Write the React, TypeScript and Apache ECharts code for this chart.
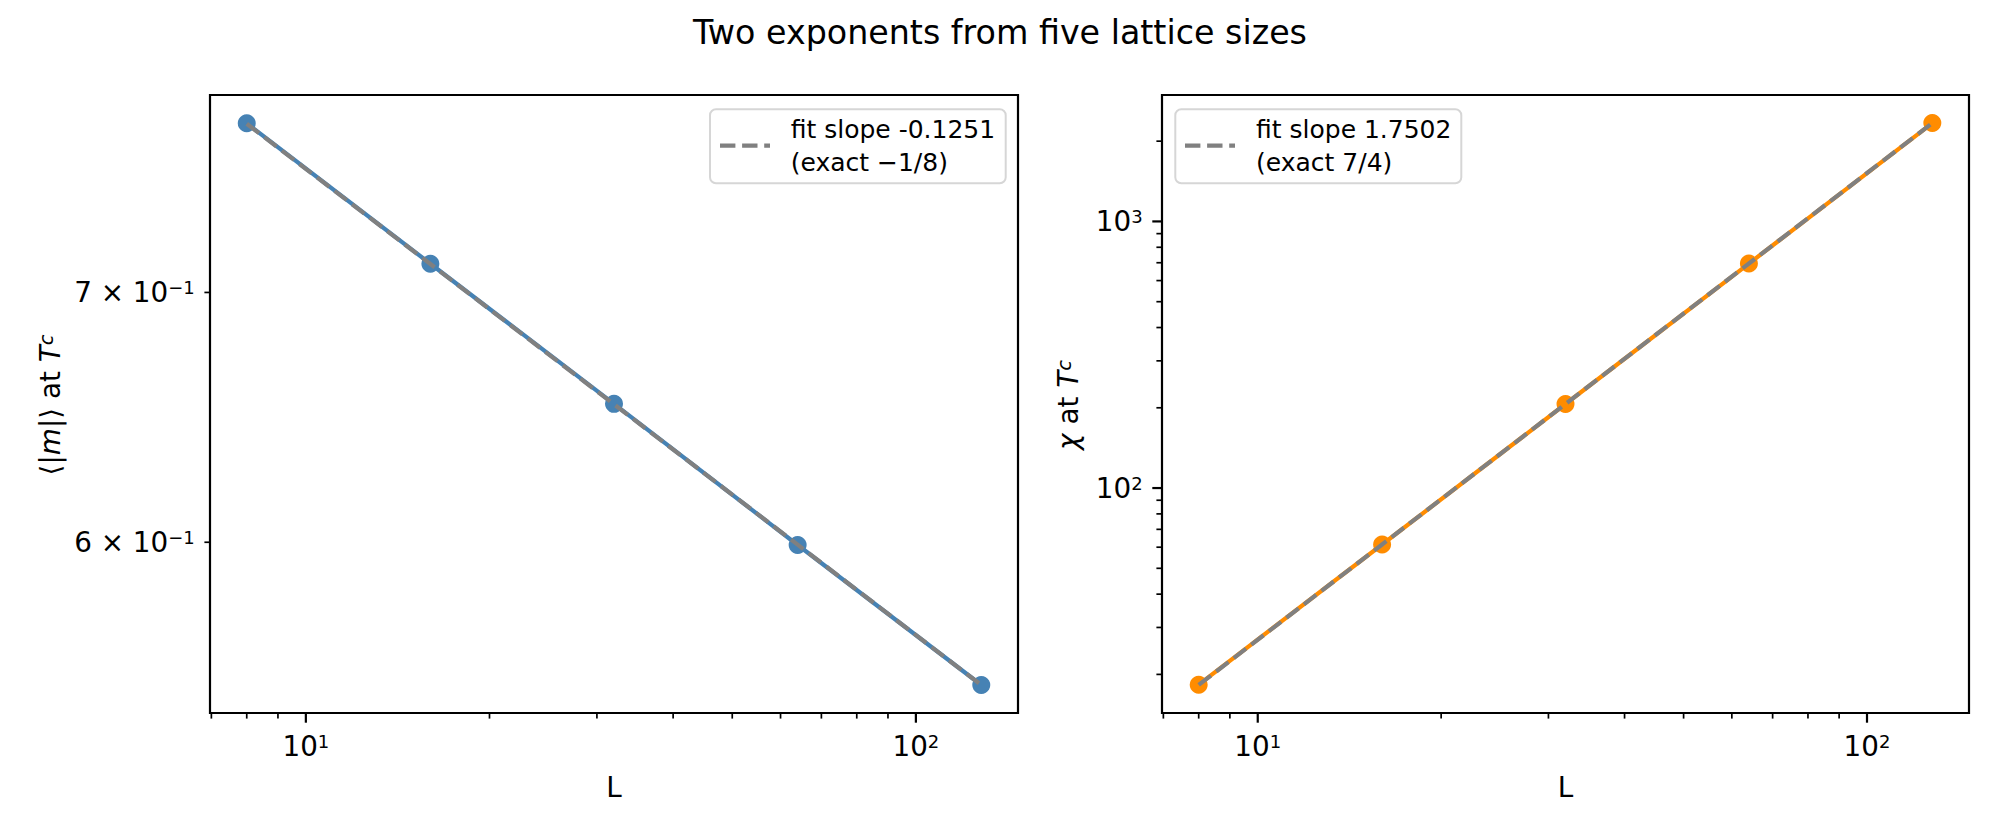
import React, { useEffect, useRef } from 'react';
import * as echarts from 'echarts';

const FONT = 'DejaVu Sans';

// ---- data ----
const latticeSizes = [8, 16, 32, 64, 128];
const magnetization = [0.777, 0.7125, 0.6535, 0.599, 0.5494];
const magnetizationFit = [0.7768, 0.7124, 0.6533, 0.5991, 0.5494];
const susceptibility = [18.3, 61.4, 206.7, 695, 2339];
const susceptibilityFit = [18.26, 61.43, 206.7, 695.4, 2339];

const legendM = ['fit slope -0.1251', '(exact \u22121/8)'];
const legendChi = ['fit slope 1.7502', '(exact 7/4)'];

const chartTitle = 'Two exponents from five lattice sizes';

// ---- ticks ----
const xMajorTicks = [10, 100];
const xMajorLabels = [['10', '1'], ['10', '2']];
const xMinorTicks = [7, 8, 9, 20, 30, 40, 50, 60, 70, 80, 90];
const mTicks = [0.6, 0.7];
const mTickLabels = [['6 \u00d7 10', '\u22121'], ['7 \u00d7 10', '\u22121']];
const chiMajorTicks = [100, 1000];
const chiMajorLabels = [['10', '2'], ['10', '3']];
const chiMinorTicks = [20, 30, 40, 50, 60, 70, 80, 90, 200, 300, 400, 500, 600, 700, 800, 900, 2000];

// ---- axis ranges ----
const xRange = [6.964, 147.03];
const mRange = [0.54, 0.7907];
const chiRange = [14.33, 2980];

const MAJOR_LEN = 9.7;
const MINOR_LEN = 5.6;
const PAD = 9.7;

const supRich = {
  b: { fontFamily: FONT, fontSize: 27.8, lineHeight: 28, verticalAlign: 'bottom' },
  s: { fontFamily: FONT, fontSize: 18, lineHeight: 15, verticalAlign: 'top' },
};

const labelRich = {
  r: { fontFamily: FONT, fontSize: 27.8, lineHeight: 28, verticalAlign: 'top' },
  i: { fontFamily: FONT, fontStyle: 'italic', fontSize: 27.8, lineHeight: 28, verticalAlign: 'top' },
  sub: { fontFamily: FONT, fontStyle: 'italic', fontSize: 19.5, lineHeight: 46, verticalAlign: 'top' },
};

function xTickSeries(grid: number, ticks: number[], major: boolean, labels: any, yAnchor: number) {
  return {
    type: 'custom',
    xAxisIndex: grid,
    yAxisIndex: grid,
    clip: false,
    silent: true,
    z: 5,
    data: ticks.map((v) => [v, yAnchor]),
    encode: { x: 0, y: 1 },
    renderItem: (params: any, api: any) => {
      const p = api.coord([api.value(0), yAnchor]);
      const len = major ? MAJOR_LEN : MINOR_LEN;
      const children: any[] = [
        {
          type: 'line',
          shape: { x1: p[0], y1: p[1], x2: p[0], y2: p[1] + len },
          style: { stroke: '#000', lineWidth: major ? 2.2 : 1.7 },
        },
      ];
      const lab = labels && labels[params.dataIndex];
      if (lab) {
        children.push({
          type: 'text',
          x: p[0],
          y: p[1] + len + PAD,
          style: {
            text: `{b|${lab[0]}}{s|${lab[1]}}`,
            rich: supRich,
            align: 'center',
            verticalAlign: 'top',
            fill: '#000',
          },
        });
      }
      return { type: 'group', children };
    },
  };
}

function yTickSeries(grid: number, ticks: number[], major: boolean, labels: any, xAnchor: number) {
  return {
    type: 'custom',
    xAxisIndex: grid,
    yAxisIndex: grid,
    clip: false,
    silent: true,
    z: 5,
    data: ticks.map((v) => [xAnchor, v]),
    encode: { x: 0, y: 1 },
    renderItem: (params: any, api: any) => {
      const p = api.coord([xAnchor, api.value(1)]);
      const len = major ? MAJOR_LEN : MINOR_LEN;
      const children: any[] = [
        {
          type: 'line',
          shape: { x1: p[0] - len, y1: p[1], x2: p[0], y2: p[1] },
          style: { stroke: '#000', lineWidth: major ? 2.2 : 1.7 },
        },
      ];
      const lab = labels && labels[params.dataIndex];
      if (lab) {
        children.push({
          type: 'text',
          x: p[0] - len - PAD,
          y: p[1],
          style: {
            text: `{b|${lab[0]}}{s|${lab[1]}}`,
            rich: supRich,
            align: 'right',
            verticalAlign: 'middle',
            fill: '#000',
          },
        });
      }
      return { type: 'group', children };
    },
  };
}

function legendGraphic(boxX: number, boxW: number, handleX: number, textX: number, lines: string[]) {
  return [
    {
      type: 'rect',
      z: 10,
      shape: { x: boxX, y: 109.3, width: boxW, height: 74, r: 6 },
      style: { fill: 'rgba(255,255,255,0.8)', stroke: '#d6d6d6', lineWidth: 2 },
    },
    {
      type: 'line',
      z: 11,
      shape: { x1: handleX, y1: 145.7, x2: handleX + 50, y2: 145.7 },
      style: { stroke: '#808080', lineWidth: 4.2, lineDash: [15.4, 6.7] },
    },
    {
      type: 'text',
      z: 11,
      x: textX,
      y: 146.3,
      style: {
        text: lines.join('\n'),
        fontFamily: FONT,
        fontSize: 25,
        lineHeight: 33,
        fill: '#000',
        align: 'left',
        verticalAlign: 'middle',
      },
    },
  ];
}

function axisCommon(gridIndex: number, range: number[]) {
  return {
    type: 'log',
    logBase: 10,
    gridIndex,
    min: range[0],
    max: range[1],
    axisLine: { show: false },
    axisTick: { show: false },
    axisLabel: { show: false },
    splitLine: { show: false },
    minorTick: { show: false },
  };
}

export default function App() {
  const ref = useRef<HTMLDivElement>(null);

  useEffect(() => {
    if (!ref.current) return;
    const chart = echarts.init(ref.current, undefined, { renderer: 'svg' });
    const option: any = {
      animation: false,
      backgroundColor: '#fff',
      title: {
        text: chartTitle,
        left: 'center',
        top: 15,
        padding: 0,
        textStyle: { fontFamily: FONT, fontSize: 33.3, fontWeight: 'normal', color: '#000', lineHeight: 34 },
      },
      grid: [
        { left: 210, top: 95, width: 808, height: 618, show: true, borderColor: '#000', borderWidth: 2.2, backgroundColor: 'transparent' },
        { left: 1162, top: 95, width: 807, height: 618, show: true, borderColor: '#000', borderWidth: 2.2, backgroundColor: 'transparent' },
      ],
      xAxis: [axisCommon(0, xRange), axisCommon(1, xRange)],
      yAxis: [axisCommon(0, mRange), axisCommon(1, chiRange)],
      series: [
        {
          type: 'line',
          xAxisIndex: 0,
          yAxisIndex: 0,
          data: latticeSizes.map((l, i) => [l, magnetization[i]]),
          symbol: 'circle',
          symbolSize: 18,
          lineStyle: { color: '#4682b4', width: 4.2 },
          itemStyle: { color: '#4682b4' },
          z: 2,
        },
        {
          type: 'line',
          xAxisIndex: 0,
          yAxisIndex: 0,
          data: latticeSizes.map((l, i) => [l, magnetizationFit[i]]),
          symbol: 'none',
          lineStyle: { color: '#808080', width: 4.2, type: [15.4, 6.7] },
          z: 3,
        },
        {
          type: 'line',
          xAxisIndex: 1,
          yAxisIndex: 1,
          data: latticeSizes.map((l, i) => [l, susceptibility[i]]),
          symbol: 'circle',
          symbolSize: 18,
          lineStyle: { color: '#ff8c00', width: 4.2 },
          itemStyle: { color: '#ff8c00' },
          z: 2,
        },
        {
          type: 'line',
          xAxisIndex: 1,
          yAxisIndex: 1,
          data: latticeSizes.map((l, i) => [l, susceptibilityFit[i]]),
          symbol: 'none',
          lineStyle: { color: '#808080', width: 4.2, type: [15.4, 6.7] },
          z: 3,
        },
        xTickSeries(0, xMajorTicks, true, xMajorLabels, mRange[0]),
        xTickSeries(0, xMinorTicks, false, null, mRange[0]),
        xTickSeries(1, xMajorTicks, true, xMajorLabels, chiRange[0]),
        xTickSeries(1, xMinorTicks, false, null, chiRange[0]),
        yTickSeries(0, mTicks, false, mTickLabels, xRange[0]),
        yTickSeries(1, chiMajorTicks, true, chiMajorLabels, xRange[0]),
        yTickSeries(1, chiMinorTicks, false, null, xRange[0]),
      ],
      graphic: [
        ...legendGraphic(710, 295.7, 720, 790.7, legendM),
        ...legendGraphic(1175.3, 286, 1185, 1256, legendChi),
        {
          type: 'text',
          x: 614,
          y: 787,
          style: { text: 'L', fontFamily: FONT, fontSize: 27.8, fill: '#000', align: 'center', verticalAlign: 'middle' },
        },
        {
          type: 'text',
          x: 1565.5,
          y: 787,
          style: { text: 'L', fontFamily: FONT, fontSize: 27.8, fill: '#000', align: 'center', verticalAlign: 'middle' },
        },
        {
          type: 'text',
          x: 59,
          y: 405,
          rotation: Math.PI / 2,
          style: {
            text: '{r|\u27e8|}{i|m}{r||\u27e9 at }{i|T}{sub|c}',
            rich: labelRich,
            fill: '#000',
            align: 'center',
            verticalAlign: 'middle',
          },
        },
        {
          type: 'text',
          x: 1077,
          y: 405,
          rotation: Math.PI / 2,
          style: {
            text: '{i|\u03c7}{r| at }{i|T}{sub|c}',
            rich: labelRich,
            fill: '#000',
            align: 'center',
            verticalAlign: 'middle',
          },
        },
      ],
    };
    chart.setOption(option);
    return () => chart.dispose();
  }, []);

  return (
    <div
      ref={ref}
      style={{ position: 'absolute', left: 0, top: 0, width: 2000, height: 840 }}
    />
  );
}
